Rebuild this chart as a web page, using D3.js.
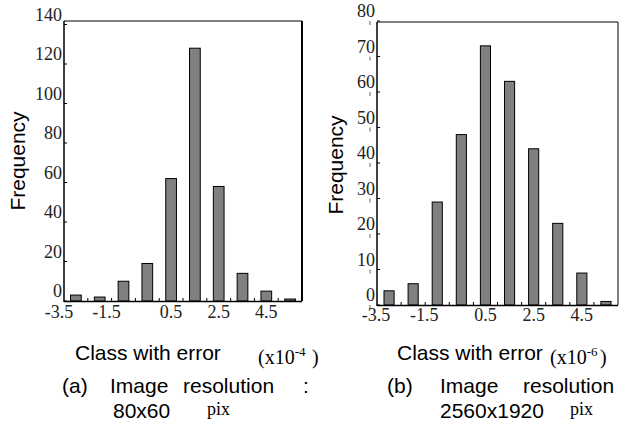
<!DOCTYPE html>
<html>
<head>
<meta charset="utf-8">
<script src="https://cdn.jsdelivr.net/npm/d3@7"></script>
<style>
  body { margin: 0; background: #fff; }
  svg { display: block; }
</style>
</head>
<body>
<div id="chart"></div>
<script>
var classes = ["-3.5", "-2.5", "-1.5", "-0.5", "0.5", "1.5", "2.5", "3.5", "4.5", "5.5"];
var freqA = [3, 2, 10, 19, 62, 128, 58, 14, 5, 1];
var freqB = [4, 6, 29, 48, 73, 63, 44, 23, 9, 1];
var yTicksA = [0, 20, 40, 60, 80, 100, 120, 140];
var yTicksB = [0, 10, 20, 30, 40, 50, 60, 70, 80];
var xLabels = ["-3.5", "-1.5", "0.5", "2.5", "4.5"];

var svg = d3.select("#chart")
  .append("svg")
  .attr("width", 619)
  .attr("height", 428);

function drawPanel(opt) {
  var g = svg.append("g");

  var x = d3.scaleBand()
    .domain(classes)
    .range([opt.left, opt.right])
    .paddingInner(opt.pad)
    .paddingOuter(opt.pad / 2);

  var y = d3.scaleLinear()
    .domain([0, opt.yMax])
    .range([opt.bottom, opt.yTop]);

  // bars
  g.selectAll("rect.bar").data(opt.values)
    .enter()
    .append("rect")
    .attr("class", "bar")
    .attr("x", function(d, i) { return x(classes[i]); })
    .attr("y", function(d) { return y(d); })
    .attr("width", x.bandwidth())
    .attr("height", function(d) { return opt.bottom - y(d); })
    .style("fill", "#808080")
    .attr("stroke", "#000")
    .attr("stroke-width", 1);

  // frame
  g.append("line")
    .attr("x1", opt.left).attr("x2", opt.right)
    .attr("y1", opt.top).attr("y2", opt.top)
    .attr("stroke", "#000").attr("stroke-width", 1);
  g.append("line")
    .attr("x1", opt.right).attr("x2", opt.right)
    .attr("y1", opt.top).attr("y2", opt.bottom)
    .attr("stroke", "#000").attr("stroke-width", opt.rightW);
  g.append("line")
    .attr("x1", opt.left).attr("x2", opt.left)
    .attr("y1", opt.top).attr("y2", opt.bottom + 1)
    .attr("stroke", "#000").attr("stroke-width", 1.5);
  g.append("line")
    .attr("x1", opt.left).attr("x2", opt.right)
    .attr("y1", opt.bottom + 0.5).attr("y2", opt.bottom + 0.5)
    .attr("stroke", "#000").attr("stroke-width", 1.5);

  // y ticks and labels
  var yt = g.selectAll("g.yt").data(opt.yTicks).enter().append("g");
  yt.append("line")
    .attr("x1", opt.left).attr("x2", opt.left + 3)
    .attr("y1", function(d) { return y(d); })
    .attr("y2", function(d) { return y(d); })
    .attr("stroke", "#000");
  if (opt.dashes) {
    yt.append("line")
      .attr("x1", opt.left - 7).attr("x2", opt.left - 7)
      .attr("y1", function(d) { return y(d); })
      .attr("y2", function(d) { return y(d) + 4; })
      .attr("stroke", "#666");
  }
  yt.append("text")
    .attr("x", opt.left - 2)
    .attr("y", function(d) { return y(d) - 4; })
    .style("text-anchor", "end")
    .style("font-family", "Liberation Serif")
    .style("font-size", "18px")
    .style("fill", "#222")
    .text(function(d) { return d; });

  // x ticks at class boundaries
  g.selectAll("line.xt").data(classes.slice(1))
    .enter()
    .append("line")
    .attr("x1", function(d) { return x(d) - x.step() * x.paddingInner() / 2; })
    .attr("x2", function(d) { return x(d) - x.step() * x.paddingInner() / 2; })
    .attr("y1", opt.bottom)
    .attr("y2", opt.bottom - 3)
    .attr("stroke", "#000");

  g.selectAll("text.xl").data(xLabels)
    .enter()
    .append("text")
    .attr("x", function(d) { return x(d) + x.bandwidth() / 2 + (+d < 0 ? opt.negShift : 0); })
    .attr("y", opt.xLabelY)
    .style("text-anchor", "middle")
    .style("font-family", "Liberation Serif")
    .style("font-size", "18px")
    .style("fill", "#222")
    .text(function(d) { return d; });

  // axis titles
  g.append("text")
    .attr("transform", "translate(" + opt.freqX + "," + opt.freqY + ")rotate(-90)")
    .style("text-anchor", "middle")
    .style("font-family", "Liberation Sans")
    .style("font-size", "21px")
    .text("Frequency");

  g.append("text")
    .attr("x", opt.classX).attr("y", 360)
    .style("font-family", "Liberation Sans")
    .style("font-size", "21px")
    .text("Class with error");

  var unit = g.append("text")
    .attr("x", opt.unitX).attr("y", 364)
    .style("font-family", "Liberation Serif")
    .style("font-size", "20px");
  unit.append("tspan").text("(x10");
  unit.append("tspan").attr("dy", -8).style("font-size", "13px").text(opt.exp);
  unit.append("tspan").attr("dy", 8).attr("x", opt.parenX).text(")");

  // caption
  var cap = g.append("text")
    .attr("y", 393)
    .style("font-family", "Liberation Sans")
    .style("font-size", "21px");
  opt.capWords.forEach(function(w, i) {
    cap.append("tspan").attr("x", opt.capX[i]).text(w);
  });

  g.append("text")
    .attr("x", opt.resX).attr("y", 418)
    .style("font-family", "Liberation Sans")
    .style("font-size", "21px")
    .text(opt.res);

  g.append("text")
    .attr("x", opt.pixX).attr("y", 415)
    .style("font-family", "Liberation Serif")
    .style("font-size", "18px")
    .text("pix");
}

drawPanel({
  values: freqA, yTicks: yTicksA, yMax: 140,
  left: 64, right: 302, top: 21, bottom: 301, yTop: 24.5,
  pad: 0.55, rightW: 2, dashes: false, negShift: -17, xLabelY: 318,
  freqX: 25, freqY: 161, classX: 75, unitX: 258, exp: "-4", parenX: 312,
  capWords: ["(a)", "Image", "resolution", ":"], capX: [62, 110, 183, 303],
  res: "80x60", resX: 113, pixX: 207
});

drawPanel({
  values: freqB, yTicks: yTicksB, yMax: 80,
  left: 377, right: 618, top: 22, bottom: 305, yTop: 21,
  pad: 0.58, rightW: 1, dashes: true, negShift: -13, xLabelY: 321,
  freqX: 343, freqY: 165, classX: 397, unitX: 550, exp: "-6", parenX: 600,
  capWords: ["(b)", "Image", "resolution"], capX: [387, 440, 523],
  res: "2560x1920", resX: 440, pixX: 570
});
</script>
</body>
</html>
